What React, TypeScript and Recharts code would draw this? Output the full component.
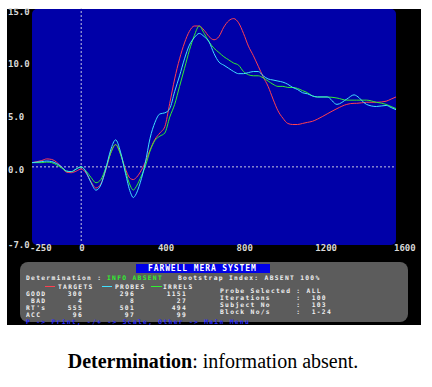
import { LineChart, Line, XAxis, YAxis, ReferenceLine } from 'recharts';

// time in ms after probe onset
const times = [
  -250, -200, -175, -150, -100, -75, -50, -25, 0, 25, 50, 75, 100, 125, 150, 175, 200, 225, 250, 265,
  275, 300, 325, 350, 375, 400, 425, 450, 475, 500, 525, 550, 575, 600, 625, 650, 675, 700, 725, 750,
  775, 800, 825, 850, 875, 900, 925, 950, 975, 1000, 1025, 1050, 1075, 1100, 1125, 1150, 1175, 1200,
  1250, 1300, 1350, 1387, 1400, 1450, 1500, 1550, 1575, 1600,
];

const targets = [
  0.4, 0.6, 0.75, 0.7, 0.0, -0.5, -0.55, -0.4, -0.2, -0.6, -1.4, -2.0, -1.6, -0.3, 1.3, 2.1, 1.2, -0.2, -1.1, -1.2,
  -1.1, -0.5, 0.4, 1.6, 2.6, 3.2, 3.8, 6.0, 8.3, 10.2, 11.7, 12.8, 13.3, 13.3, 12.9, 12.3, 12.0, 12.3, 13.2, 13.8,
  14.0, 13.6, 12.6, 11.4, 10.5, 9.5, 8.5, 7.6, 6.4, 5.3, 4.6, 4.1, 4.0, 4.0, 4.1, 4.2, 4.3, 4.5,
  5.0, 5.5, 5.9, 6.0, 6.0, 6.1, 6.1, 6.2, 6.4, 6.6,
];

const probes = [
  0.4, 0.5, 0.55, 0.5, 0.0, -0.4, -0.45, -0.2, 0.0, -0.5, -1.5, -2.2, -1.7, -0.2, 1.6, 2.55, 1.4, -0.6, -2.4, -2.9,
  -2.7, -1.5, 0.3, 2.7, 4.2, 5.0, 5.1, 5.5, 7.1, 8.6, 10.2, 11.5, 12.2, 12.6, 12.3, 11.8, 10.7, 9.9, 9.6, 9.3,
  9.0, 8.8, 8.8, 8.9, 9.0, 9.0, 8.6, 8.3, 8.2, 8.1, 8.0, 7.8, 7.5, 7.3, 7.0, 6.9, 6.7, 6.6,
  6.6, 5.9, 6.4, 6.8, 6.7, 5.9, 5.7, 5.8, 5.6, 5.4,
];

const irrels = [
  0.4, 0.4, 0.45, 0.4, -0.1, -0.4, -0.45, -0.2, 0.0, -0.4, -1.0, -1.5, -1.2, -0.1, 1.3, 2.1, 1.2, -0.4, -1.8, -2.2,
  -2.0, -1.1, 0.0, 1.5, 2.5, 2.9, 3.2, 4.7, 5.9, 7.6, 9.3, 11.0, 12.4, 13.3, 12.6, 11.8, 11.2, 10.8, 10.4, 10.1,
  9.8, 9.6, 9.0, 8.7, 8.6, 8.6, 8.4, 8.1, 7.8, 7.6, 7.6, 7.5, 7.5, 7.4, 7.2, 7.0, 6.7, 6.6,
  6.6, 6.5, 6.3, 6.3, 6.3, 6.3, 6.1, 5.9, 5.7, 5.5,
];

const xTicks = [-250, 0, 400, 800, 1200, 1600];
const yTicks = [-7, 0, 5, 10, 15];

// summary table
const rowLabels = ['GOOD', ' BAD', "RT's", 'ACC'];
const targetStats = ['300', '4', '555', '96'];
const probeStats = ['296', '8', '501', '97'];
const irrelStats = ['1151', '27', '494', '99'];

const data = times.map((t, i) => ({ t, targets: targets[i], probes: probes[i], irrels: irrels[i] }));

const MONO = '"DejaVu Sans Mono", "Liberation Mono", monospace';
const RED = '#ff4050';
const CYAN = '#40e0ff';
const GREEN = '#30f030';

const XTick = ({ x, y, payload }: any) => (
  <text x={x - 2} y={y + 10} textAnchor="start" fill="#d8d8d8" fontFamily={MONO} fontWeight="bold" fontSize={9}>
    {payload.value}
  </text>
);

const YTick = ({ y, payload }: any) => (
  <text x={8} y={y + 6.5} textAnchor="start" fill="#d8d8d8" fontFamily={MONO} fontWeight="bold" fontSize={9}>
    {Number(payload.value).toFixed(1)}
  </text>
);

const row = (top: number, left: number, text: string, color = '#f0f0f0', align: 'left' | 'right' = 'left') => (
  <div
    style={{
      position: 'absolute', top, left: align === 'left' ? left : left - 40, width: align === 'left' ? undefined : 40,
      height: 7, textAlign: align, color, whiteSpace: 'pre', fontFamily: MONO, fontWeight: 'bold',
      fontSize: 6.3, letterSpacing: 1.3, lineHeight: '7px',
    }}
  >
    {text}
  </div>
);

export default function App() {
  const rowTops = [290, 297, 304, 311];
  return (
    <div style={{ position: 'absolute', left: 0, top: 0, width: 432, height: 387, background: '#fff', overflow: 'hidden' }}>
      {/* black screen */}
      <div style={{ position: 'absolute', left: 7, top: 9, width: 414, height: 316, background: '#000' }} />
      {/* blue plot area */}
      <div style={{ position: 'absolute', left: 32, top: 9, width: 364, height: 236, background: '#0000a8', borderRadius: 5 }} />

      <div style={{ position: 'absolute', left: 0, top: 0 }}>
        <LineChart width={432} height={262} data={data} margin={{ top: 8, right: 36, left: 7, bottom: 0 }}>
          <XAxis
            dataKey="t"
            type="number"
            domain={[-250, 1600]}
            ticks={xTicks}
            axisLine={false}
            tickLine={false}
            tickSize={0}
            tickMargin={0}
            height={21}
            tick={<XTick />}
            interval={0}
          />
          <YAxis
            type="number"
            domain={[-7, 15]}
            ticks={yTicks}
            axisLine={false}
            tickLine={false}
            width={25}
            tick={<YTick />}
            interval={0}
          />
          <ReferenceLine x={0} stroke="#c8c8e0" strokeDasharray="2 2" />
          <ReferenceLine y={0} stroke="#c8c8e0" strokeDasharray="2 2" />
          <Line type="monotone" dataKey="targets" stroke={RED} strokeWidth={1} dot={false} isAnimationActive={false} />
          <Line type="monotone" dataKey="irrels" stroke={GREEN} strokeWidth={1} dot={false} isAnimationActive={false} />
          <Line type="monotone" dataKey="probes" stroke={CYAN} strokeWidth={1} dot={false} isAnimationActive={false} />
        </LineChart>
      </div>

      {/* info panel */}
      <div style={{ position: 'absolute', left: 20, top: 262, width: 388, height: 60, background: '#5c5c5c', borderRadius: 8 }} />
      <div style={{ position: 'absolute', left: 136, top: 264, width: 134, height: 9, background: '#0000e8' }} />
      <div style={{ position: 'absolute', left: 148, top: 264, color: '#fff', whiteSpace: 'pre', fontFamily: MONO, fontWeight: 'bold', fontSize: 8, letterSpacing: 0.9, lineHeight: '9px' }}>
        FARWELL MERA SYSTEM
      </div>
      {row(274, 26, 'Determination :')}
      {row(274, 107, 'INFO ABSENT', GREEN)}
      {row(274, 178, 'Bootstrap Index: ABSENT 100%')}

      <div style={{ position: 'absolute', left: 45, top: 286, width: 10, height: 1, background: RED }} />
      {row(283, 58, 'TARGETS')}
      <div style={{ position: 'absolute', left: 102, top: 286, width: 10, height: 1, background: CYAN }} />
      {row(283, 115, 'PROBES')}
      <div style={{ position: 'absolute', left: 151, top: 286, width: 11, height: 1, background: GREEN }} />
      {row(283, 163, 'IRRELS')}

      {rowLabels.map((l, i) => (
        <div key={l}>
          {row(rowTops[i], 26, l)}
          {row(rowTops[i], 83, targetStats[i], '#f0f0f0', 'right')}
          {row(rowTops[i], 135, probeStats[i], '#f0f0f0', 'right')}
          {row(rowTops[i], 187, irrelStats[i], '#f0f0f0', 'right')}
        </div>
      ))}

      {row(287, 220, 'Probe Selected : ALL')}
      {row(294, 220, 'Iterations     :  100')}
      {row(301, 220, 'Subject No     :  103')}
      {row(308, 220, 'Block No/s     :  1-24')}

      {row(318, 26, 'P -> Print, -/+ -> Scale, Other -> Main Menu', '#2828ff')}

      {/* caption */}
      <div style={{ position: 'absolute', left: 0, top: 350, width: 426, textAlign: 'center', fontFamily: '"Liberation Serif", "Times New Roman", serif', fontSize: 20, lineHeight: '22px', color: '#000' }}>
        <b>Determination</b>: information absent.
      </div>
    </div>
  );
}
